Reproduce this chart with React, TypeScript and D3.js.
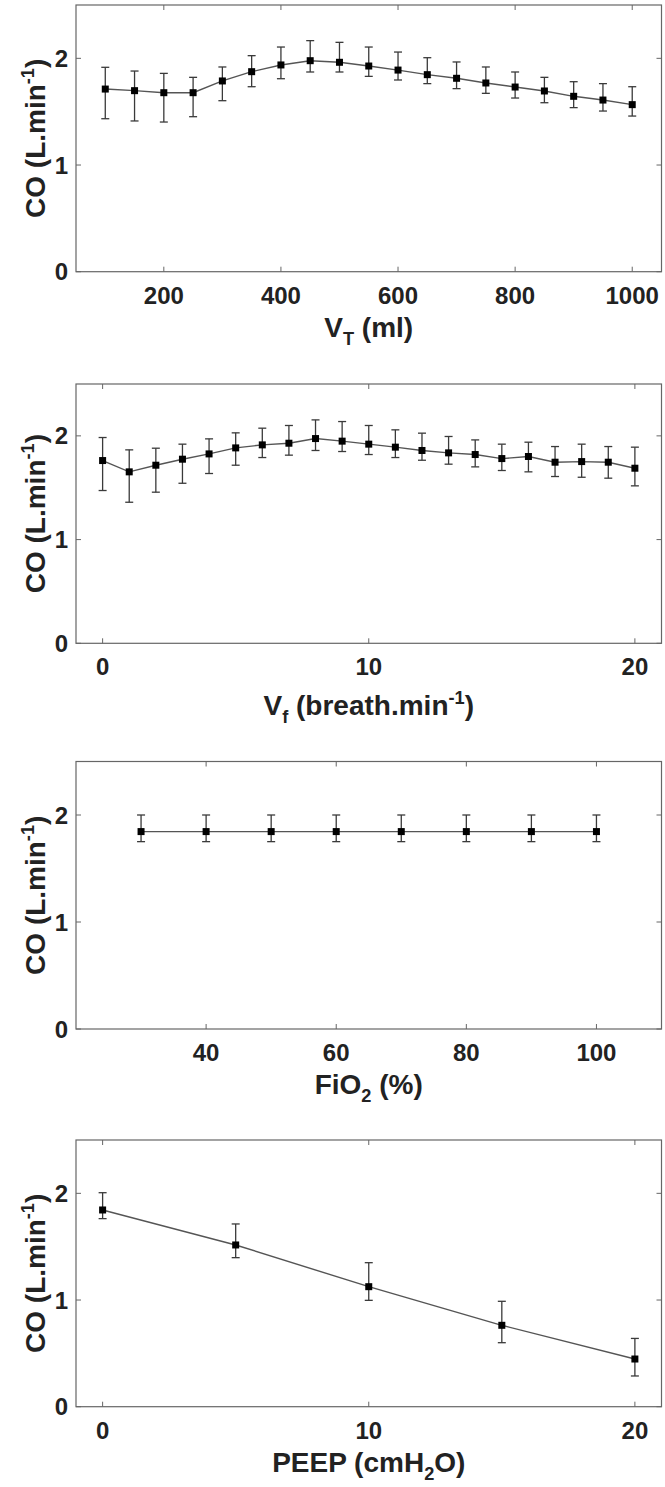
import React from "react";
import * as d3 from "d3";

// ---------- Data ----------
const vtX = [100, 150, 200, 250, 300, 350, 400, 450, 500, 550, 600, 650, 700, 750, 800, 850, 900, 950, 1000];
const vtMean = [1.712, 1.697, 1.678, 1.678, 1.788, 1.875, 1.938, 1.978, 1.963, 1.928, 1.89, 1.847, 1.813, 1.769, 1.731, 1.694, 1.644, 1.609, 1.566];
const vtHi = [1.916, 1.881, 1.859, 1.822, 1.919, 2.025, 2.106, 2.166, 2.15, 2.106, 2.059, 2.006, 1.966, 1.919, 1.872, 1.822, 1.781, 1.763, 1.734];
const vtLo = [1.434, 1.413, 1.403, 1.453, 1.603, 1.734, 1.809, 1.872, 1.872, 1.831, 1.797, 1.763, 1.716, 1.672, 1.628, 1.584, 1.538, 1.506, 1.459];

const vfX = [0, 1, 2, 3, 4, 5, 6, 7, 8, 9, 10, 11, 12, 13, 14, 15, 16, 17, 18, 19, 20];
const vfMean = [1.762, 1.653, 1.717, 1.775, 1.826, 1.884, 1.913, 1.929, 1.974, 1.949, 1.92, 1.891, 1.859, 1.836, 1.82, 1.781, 1.801, 1.746, 1.752, 1.746, 1.688];
const vfHi = [1.984, 1.865, 1.881, 1.92, 1.971, 2.029, 2.074, 2.1, 2.154, 2.138, 2.1, 2.058, 2.026, 1.994, 1.961, 1.92, 1.939, 1.897, 1.92, 1.897, 1.891];
const vfLo = [1.473, 1.36, 1.457, 1.543, 1.637, 1.717, 1.791, 1.814, 1.859, 1.849, 1.82, 1.791, 1.765, 1.727, 1.701, 1.666, 1.653, 1.608, 1.601, 1.592, 1.518];

const fioX = [30, 40, 50, 60, 70, 80, 90, 100];
const fioMean = [1.845, 1.845, 1.845, 1.845, 1.845, 1.845, 1.845, 1.845];
const fioHi = [2.0, 2.0, 2.0, 2.0, 2.0, 2.0, 2.0, 2.0];
const fioLo = [1.751, 1.751, 1.751, 1.751, 1.751, 1.751, 1.751, 1.751];

const peepX = [0, 5, 10, 15, 20];
const peepMean = [1.844, 1.516, 1.125, 0.763, 0.447];
const peepHi = [2.006, 1.713, 1.35, 0.988, 0.64];
const peepLo = [1.763, 1.397, 0.997, 0.6, 0.288];

const yTicks = [0, 1, 2];
const vtTicks = [200, 400, 600, 800, 1000];
const vfTicks = [0, 10, 20];
const fioTicks = [40, 60, 80, 100];
const peepTicks = [0, 10, 20];

// ---------- Layout ----------
const W = 665;
const H = 1487;
const LEFT = 76;
const RIGHT = 661.5;
const FONT = "'Liberation Sans', Arial, Helvetica, sans-serif";
const TICK_FS = 24;
const LABEL_FS = 28;
const TEXT = "#222";
const AXIS = "#666";

type PanelProps = {
  top: number;
  bottom: number;
  xDomain: [number, number];
  xTicks: number[];
  xs: number[];
  mean: number[];
  hi: number[];
  lo: number[];
  xLabel: React.ReactNode;
  labelOffset: number;
};

function Panel({ top, bottom, xDomain, xTicks, xs, mean, hi, lo, xLabel, labelOffset }: PanelProps) {
  const x = d3.scaleLinear().domain(xDomain).range([LEFT, RIGHT]);
  const y = d3.scaleLinear().domain([0, 2.5]).range([bottom, top]);
  const pts = xs.map((v, i) => [x(v), y(mean[i])] as [number, number]);
  const line = d3.line()(pts) || "";
  const tl = 5;
  const cap = 4;
  const ms = 7;
  const midY = (top + bottom) / 2;
  return (
    <g>
      {/* box */}
      <rect x={LEFT} y={top} width={RIGHT - LEFT} height={bottom - top} fill="none" stroke={AXIS} strokeWidth={1.2} />
      {/* x ticks */}
      {xTicks.map((t) => (
        <g key={"xt" + t}>
          <line x1={x(t)} x2={x(t)} y1={bottom} y2={bottom - tl} stroke={AXIS} strokeWidth={1} />
          <line x1={x(t)} x2={x(t)} y1={top} y2={top + tl} stroke={AXIS} strokeWidth={1} />
          <text x={x(t)} y={bottom + 32} textAnchor="middle" fontSize={TICK_FS} fontWeight="bold" fill={TEXT} fontFamily={FONT}>
            {t}
          </text>
        </g>
      ))}
      {/* y ticks */}
      {yTicks.map((t) => (
        <g key={"yt" + t}>
          <line x1={LEFT} x2={LEFT + tl} y1={y(t)} y2={y(t)} stroke={AXIS} strokeWidth={1} />
          <line x1={RIGHT} x2={RIGHT - tl} y1={y(t)} y2={y(t)} stroke={AXIS} strokeWidth={1} />
          <text x={68} y={y(t) + 8.5} textAnchor="end" fontSize={TICK_FS} fontWeight="bold" fill={TEXT} fontFamily={FONT}>
            {t}
          </text>
        </g>
      ))}
      {/* y label */}
      <text
        transform={`translate(45,${midY}) rotate(-90)`}
        textAnchor="middle"
        fontSize={LABEL_FS}
        fontWeight="bold"
        fill={TEXT}
        fontFamily={FONT}
      >
        <tspan>CO (L.min</tspan>
        <tspan dy={-11} fontSize={LABEL_FS * 0.65}>-1</tspan>
        <tspan dy={11}>)</tspan>
      </text>
      {/* x label */}
      <text
        x={(LEFT + RIGHT) / 2}
        y={bottom + labelOffset}
        textAnchor="middle"
        fontSize={LABEL_FS}
        fontWeight="bold"
        fill={TEXT}
        fontFamily={FONT}
      >
        {xLabel}
      </text>
      {/* line */}
      <path d={line} fill="none" stroke="#555" strokeWidth={1.4} />
      {/* error bars */}
      {xs.map((v, i) => (
        <g key={"eb" + i} stroke="#3a3a3a" strokeWidth={1.3}>
          <line x1={x(v)} x2={x(v)} y1={y(hi[i])} y2={y(lo[i])} />
          <line x1={x(v) - cap} x2={x(v) + cap} y1={y(hi[i])} y2={y(hi[i])} />
          <line x1={x(v) - cap} x2={x(v) + cap} y1={y(lo[i])} y2={y(lo[i])} />
        </g>
      ))}
      {/* markers */}
      {xs.map((v, i) => (
        <rect key={"m" + i} x={x(v) - ms / 2} y={y(mean[i]) - ms / 2} width={ms} height={ms} fill="#000" />
      ))}
    </g>
  );
}

export default function App() {
  const sub = (s: string) => (
    <>
      <tspan dy={8} fontSize={LABEL_FS * 0.65}>{s}</tspan>
    </>
  );
  return (
    <svg
      width={W}
      height={H}
      viewBox={`0 0 ${W} ${H}`}
      style={{ position: "absolute", left: 0, top: 0, background: "#fff" }}
    >
      <rect x={0} y={0} width={W} height={H} fill="#fff" />
      <Panel
        top={5}
        bottom={271.7}
        xDomain={[50, 1050]}
        xTicks={vtTicks}
        xs={vtX}
        mean={vtMean}
        hi={vtHi}
        lo={vtLo}
        labelOffset={65}
        xLabel={
          <>
            <tspan>V</tspan>
            {sub("T")}
            <tspan dy={-8}> (ml)</tspan>
          </>
        }
      />
      <Panel
        top={384}
        bottom={643.3}
        xDomain={[-1, 21]}
        xTicks={vfTicks}
        xs={vfX}
        mean={vfMean}
        hi={vfHi}
        lo={vfLo}
        labelOffset={72}
        xLabel={
          <>
            <tspan>V</tspan>
            {sub("f")}
            <tspan dy={-8}> (breath.min</tspan>
            <tspan dy={-11} fontSize={LABEL_FS * 0.65}>-1</tspan>
            <tspan dy={11}>)</tspan>
          </>
        }
      />
      <Panel
        top={761.5}
        bottom={1029}
        xDomain={[20, 110]}
        xTicks={fioTicks}
        xs={fioX}
        mean={fioMean}
        hi={fioHi}
        lo={fioLo}
        labelOffset={65}
        xLabel={
          <>
            <tspan>FiO</tspan>
            {sub("2")}
            <tspan dy={-8}> (%)</tspan>
          </>
        }
      />
      <Panel
        top={1140}
        bottom={1406.7}
        xDomain={[-1, 21]}
        xTicks={peepTicks}
        xs={peepX}
        mean={peepMean}
        hi={peepHi}
        lo={peepLo}
        labelOffset={65}
        xLabel={
          <>
            <tspan>PEEP (cmH</tspan>
            {sub("2")}
            <tspan dy={-8}>O)</tspan>
          </>
        }
      />
    </svg>
  );
}
